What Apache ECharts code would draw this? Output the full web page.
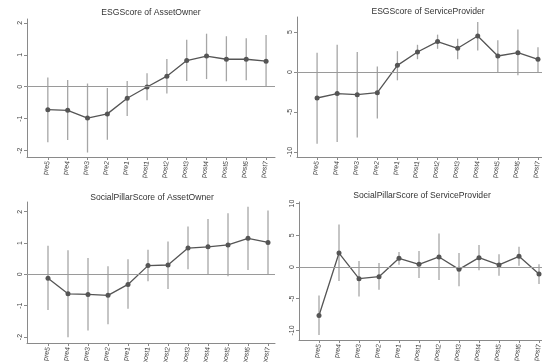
<!DOCTYPE html>
<html>
<head>
<meta charset="utf-8">
<script src="https://cdn.jsdelivr.net/npm/echarts@6/dist/echarts.min.js"></script>
<style>
  html, body { margin: 0; padding: 0; background: #fff; }
  #chart { width: 542px; height: 362px; }
</style>
</head>
<body>
<div id="chart"></div>
<script>
const categories = ['pre5', 'pre4', 'pre3', 'pre2', 'pre1', 'post1', 'post2', 'post3', 'post4', 'post5', 'post6', 'post7'];

// ESGScore of AssetOwner
const aoEsgEst = [-0.72, -0.74, -0.98, -0.85, -0.36, -0.01, 0.33, 0.82, 0.96, 0.86, 0.86, 0.80];
const aoEsgLo  = [-1.74, -1.67, -2.06, -1.66, -0.92, -0.42, -0.21, 0.18, 0.24, 0.17, 0.20, 0.00];
const aoEsgHi  = [0.29, 0.21, 0.10, -0.04, 0.18, 0.42, 0.87, 1.47, 1.66, 1.58, 1.52, 1.62];

// ESGScore of ServiceProvider
const spEsgEst = [-3.25, -2.70, -2.83, -2.58, 0.83, 2.50, 3.80, 2.96, 4.50, 2.00, 2.42, 1.58];
const spEsgLo  = [-8.96, -8.75, -8.20, -5.80, -1.04, 1.60, 2.90, 1.58, 2.70, 0.00, -0.40, 0.00];
const spEsgHi  = [2.40, 3.40, 2.50, 0.70, 2.60, 3.40, 4.67, 4.17, 6.25, 3.96, 5.30, 3.10];

// SocialPillarScore of AssetOwner
const aoSocEst = [-0.12, -0.62, -0.64, -0.67, -0.32, 0.28, 0.30, 0.84, 0.88, 0.94, 1.15, 1.02];
const aoSocLo  = [-1.14, -2.01, -1.79, -1.59, -1.10, -0.22, -0.47, 0.16, 0.00, -0.06, 0.14, 0.00];
const aoSocHi  = [0.91, 0.77, 0.52, 0.26, 0.48, 0.79, 1.05, 1.53, 1.77, 1.95, 2.16, 2.04];

// SocialPillarScore of ServiceProvider
const spSocEst = [-7.63, 2.20, -1.84, -1.53, 1.37, 0.42, 1.58, -0.37, 1.47, 0.32, 1.68, -1.10];
const spSocLo  = [-10.70, -2.20, -4.63, -3.58, 0.37, -1.74, -2.05, -3.05, -0.53, -1.37, 0.21, -2.68];
const spSocHi  = [-4.47, 6.70, 0.95, 0.63, 2.37, 2.53, 5.26, 2.20, 3.47, 2.00, 3.20, 0.42];

const yTicksSmall = [-2, -1, 0, 1, 2];
const yTicksSp1 = [-10, -5, 0, 5];
const yTicksSp2 = [-10, -5, 0, 5, 10];

const panels = [
  { title: 'ESGScore of AssetOwner', est: aoEsgEst, lo: aoEsgLo, hi: aoEsgHi, ticks: yTicksSmall,
    grid: { left: 27, right: 267, top: 19, bottom: 205 }, xr: [-0.05, 12.45], yr: [-2.2, 2.12], tx: 151, ty: 8 },
  { title: 'ESGScore of ServiceProvider', est: spEsgEst, lo: spEsgLo, hi: spEsgHi, ticks: yTicksSp1,
    grid: { left: 297, right: 0, top: 17, bottom: 205 }, xr: [0, 12.2], yr: [-10.625, 6.875], tx: 428, ty: 7 },
  { title: 'SocialPillarScore of AssetOwner', est: aoSocEst, lo: aoSocLo, hi: aoSocHi, ticks: yTicksSmall,
    grid: { left: 27, right: 267, top: 202, bottom: 19 }, xr: [-0.05, 12.35], yr: [-2.19, 2.31], tx: 152, ty: 193 },
  { title: 'SocialPillarScore of ServiceProvider', est: spSocEst, lo: spSocLo, hi: spSocHi, ticks: yTicksSp2,
    grid: { left: 299, right: 0, top: 202, bottom: 22 }, xr: [0, 12.15], yr: [-11.5, 10.24], tx: 422, ty: 191 }
];

const xPos = categories.map((c, i) => i + 1);
const axisGray = '#8a8a8a';
const fontFamily = 'Liberation Sans, Arial, sans-serif';

const chart = echarts.init(document.getElementById('chart'), null, { renderer: 'canvas' });

const option = {
  animation: false,
  backgroundColor: '#fff',
  title: panels.map(p => ({
    text: p.title, left: p.tx, top: p.ty, textAlign: 'center', padding: 0,
    textStyle: { fontSize: 8.6, fontWeight: 'normal', color: '#333', fontFamily }
  })),
  grid: panels.map(p => Object.assign({ containLabel: false, outerBoundsMode: 'none' }, p.grid)),
  xAxis: panels.map((p, i) => ({
    type: 'value', gridIndex: i, min: p.xr[0], max: p.xr[1],
    splitLine: { show: false },
    axisLine: { show: true, onZero: false, lineStyle: { color: axisGray, width: 1 } },
    axisTick: { show: true, length: 3, customValues: xPos, lineStyle: { color: axisGray } },
    axisLabel: {
      customValues: xPos, rotate: 80, fontSize: 7, color: '#444', margin: 4, fontFamily,
      formatter: v => categories[Math.round(v) - 1] || ''
    }
  })),
  yAxis: panels.map((p, i) => ({
    type: 'value', gridIndex: i, min: p.yr[0], max: p.yr[1],
    splitLine: { show: false },
    axisLine: { show: true, onZero: false, lineStyle: { color: axisGray, width: 1 } },
    axisTick: { show: true, length: 3, customValues: p.ticks, lineStyle: { color: axisGray } },
    axisLabel: { customValues: p.ticks, rotate: 90, fontSize: 7, color: '#444', margin: 3, fontFamily }
  })),
  series: []
};

panels.forEach((p, i) => {
  option.series.push({
    type: 'custom', xAxisIndex: i, yAxisIndex: i, silent: true,
    data: xPos.map((x, k) => [x, p.lo[k], p.hi[k]]),
    renderItem: (params, api) => {
      const a = api.coord([api.value(0), api.value(1)]);
      const b = api.coord([api.value(0), api.value(2)]);
      return {
        type: 'line',
        shape: { x1: a[0], y1: a[1], x2: b[0], y2: b[1] },
        style: { stroke: '#a6a6a6', lineWidth: 1.3 }
      };
    },
    z: 2
  });
  option.series.push({
    type: 'line', xAxisIndex: i, yAxisIndex: i, silent: true,
    data: xPos.map((x, k) => [x, p.est[k]]),
    symbol: 'circle', symbolSize: 5,
    lineStyle: { color: '#555', width: 1.3 },
    itemStyle: { color: '#555' },
    markLine: {
      silent: true, symbol: 'none', label: { show: false },
      lineStyle: { color: '#9a9a9a', width: 1, type: 'solid' },
      data: [{ yAxis: 0 }]
    },
    z: 3
  });
});

chart.setOption(option);
</script>
</body>
</html>
